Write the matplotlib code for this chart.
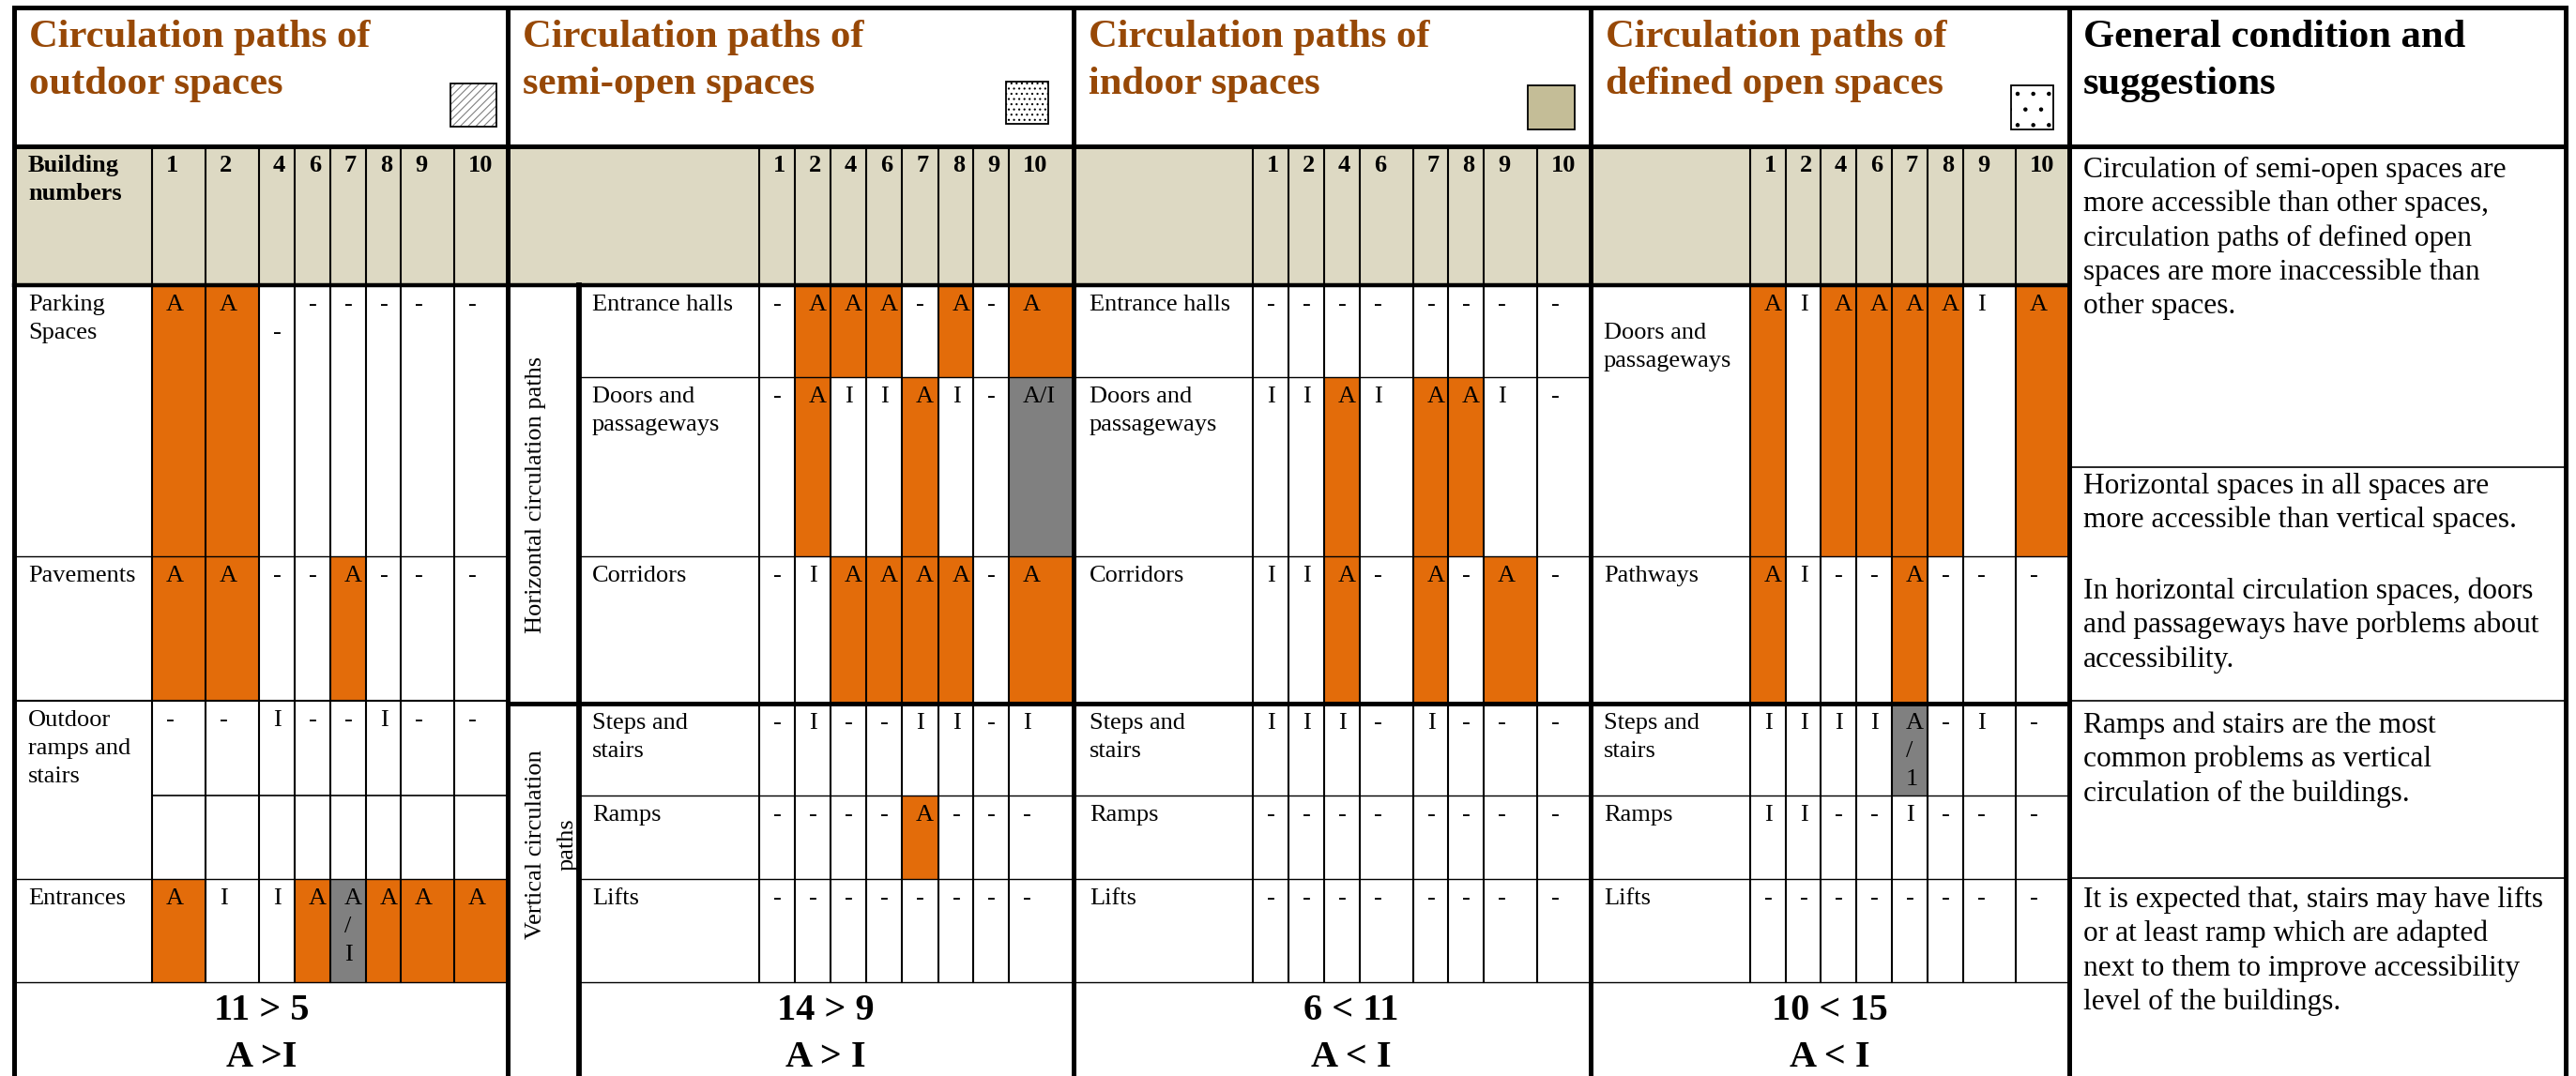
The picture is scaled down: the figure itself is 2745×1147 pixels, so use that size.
import matplotlib
matplotlib.use('Agg')
import matplotlib.pyplot as plt
from matplotlib.patches import Rectangle

plt.rcParams['font.family'] = ['Liberation Serif', 'DejaVu Serif']
plt.rcParams['hatch.linewidth'] = 0.8

# ---------------- data ----------------
buildings = ['1', '2', '4', '6', '7', '8', '9', '10']

section_titles = ['Circulation paths of\noutdoor spaces',
                  'Circulation paths of\nsemi-open spaces',
                  'Circulation paths of\nindoor spaces',
                  'Circulation paths of\ndefined open spaces']
notes_title = 'General condition and\nsuggestions'

outdoor_rows = ['Parking\nSpaces', 'Pavements', 'Outdoor\nramps and\nstairs', 'Entrances']
outdoor_vals = [
    ['A', 'A', '\n-', '-', '-', '-', '-', '-'],
    ['A', 'A', '-', '-', 'A', '-', '-', '-'],
    ['-', '-', 'I', '-', '-', 'I', '-', '-'],
    ['A', 'I', 'I', 'A', 'A\n/\nI', 'A', 'A', 'A'],
]

semi_rows = ['Entrance halls', 'Doors and\npassageways', 'Corridors',
             'Steps and\nstairs', 'Ramps', 'Lifts']
semi_vals = [
    ['-', 'A', 'A', 'A', '-', 'A', '-', 'A'],
    ['-', 'A', 'I', 'I', 'A', 'I', '-', 'A/I'],
    ['-', 'I', 'A', 'A', 'A', 'A', '-', 'A'],
    ['-', 'I', '-', '-', 'I', 'I', '-', 'I'],
    ['-', '-', '-', '-', 'A', '-', '-', '-'],
    ['-', '-', '-', '-', '-', '-', '-', '-'],
]

indoor_rows = ['Entrance halls', 'Doors and\npassageways', 'Corridors',
               'Steps and\nstairs', 'Ramps', 'Lifts']
indoor_vals = [
    ['-', '-', '-', '-', '-', '-', '-', '-'],
    ['I', 'I', 'A', 'I', 'A', 'A', 'I', '-'],
    ['I', 'I', 'A', '-', 'A', '-', 'A', '-'],
    ['I', 'I', 'I', '-', 'I', '-', '-', '-'],
    ['-', '-', '-', '-', '-', '-', '-', '-'],
    ['-', '-', '-', '-', '-', '-', '-', '-'],
]

open_rows = ['\nDoors and\npassageways', 'Pathways', 'Steps and\nstairs', 'Ramps', 'Lifts']
open_vals = [
    ['A', 'I', 'A', 'A', 'A', 'A', 'I', 'A'],
    ['A', 'I', '-', '-', 'A', '-', '-', '-'],
    ['I', 'I', 'I', 'I', 'A\n/\n1', '-', 'I', '-'],
    ['I', 'I', '-', '-', 'I', '-', '-', '-'],
    ['-', '-', '-', '-', '-', '-', '-', '-'],
]

group_labels = ['Horizontal circulation paths', 'Vertical circulation', 'paths']

summary_counts = ['11 > 5', '14 > 9', '6 < 11', '10 < 15']
summary_signs = ['A >I', 'A > I', 'A < I', 'A < I']

notes = [
    'Circulation of semi-open spaces are\nmore accessible than other spaces,\n'
    'circulation paths of defined open\nspaces are more inaccessible than\nother spaces.',
    'Horizontal spaces in all spaces are\nmore accessible than vertical spaces.',
    'In horizontal circulation spaces, doors\nand passageways have porblems about\naccessibility.',
    'Ramps and stairs are the most\ncommon problems as vertical\ncirculation of the buildings.',
    'It is expected that, stairs may have lifts\nor at least ramp which are adapted\n'
    'next to them to improve accessibility\nlevel of the buildings.',
]

row_labels = [outdoor_rows, semi_rows, indoor_rows, open_rows]
values = [outdoor_vals, semi_vals, indoor_vals, open_vals]

# ---------------- layout (pixels) ----------------
W, H = 2745, 1147
TOP, TITLE_BOT, HEAD_BOT, DATA_BOT = 8, 156, 304, 1047
sec_x = [15, 541, 1144, 1695, 2205, 2734]
col_x = [
    [162, 219, 276, 314, 352, 390, 427, 484, 541],
    [809, 847, 885, 923, 961, 1000, 1037, 1075, 1144],
    [1335, 1373, 1411, 1449, 1506, 1543, 1581, 1638, 1695],
    [1865, 1903, 1940, 1978, 2016, 2054, 2092, 2148, 2205],
]
row_y = [
    [304, 593, 747, 937, 1047],
    [304, 402, 593, 750, 848, 937, 1047],
    [304, 402, 593, 750, 848, 937, 1047],
    [304, 593, 750, 848, 937, 1047],
]
label_x = [30, 631, 1161, 1709]
line_left = [15, 617, 1144, 1695]
summary_x = [279, 880, 1440, 1950]
note_base = [189, 526, 638, 781, 967]
note_lines_y = [498, 747, 936]

ORANGE = '#E36C0A'
GRAY = '#808080'
TAN = '#DDD9C3'
BROWN = '#974806'
THICK = 3.6
THIN = 1.0
COL = 1.5
CELL = 19
GAP = 30


def fill_for(v):
    if v == 'A':
        return ORANGE
    if 'A' in v and ('I' in v or '1' in v):
        return GRAY
    return None


fig = plt.figure(figsize=(W / 100, H / 100), dpi=100)
ax = fig.add_axes([0, 0, 1, 1])
ax.set_xlim(0, W)
ax.set_ylim(H, 0)
ax.axis('off')


def put_lines(x, y, text, gap, **kw):
    for i, line in enumerate(text.split('\n')):
        if line:
            ax.text(x, y + i * gap, line, va='baseline', **kw)


def hline(y, x0, x1, lw):
    ax.plot([x0, x1], [y, y], color='black', lw=lw, solid_capstyle='projecting')


def vline(x, y0, y1, lw):
    ax.plot([x, x], [y0, y1], color='black', lw=lw, solid_capstyle='projecting')


# header band
ax.add_patch(Rectangle((sec_x[0], TITLE_BOT), sec_x[4] - sec_x[0], HEAD_BOT - TITLE_BOT,
                       facecolor=TAN, lw=0))

# cell fills
for s in range(4):
    cx, ry = col_x[s], row_y[s]
    for r, vals in enumerate(values[s]):
        for c, v in enumerate(vals):
            col = fill_for(v)
            if col:
                ax.add_patch(Rectangle((cx[c], ry[r]), cx[c + 1] - cx[c], ry[r + 1] - ry[r],
                                       facecolor=col, lw=0))

# thin grid lines
for s in range(4):
    cx, ry = col_x[s], row_y[s]
    for x in cx[:-1]:
        vline(x, TITLE_BOT, DATA_BOT, COL)
    for y in ry[1:]:
        if s > 0 and y == 750:
            hline(y, sec_x[s], sec_x[s + 1], THICK)
        elif s == 0 and y == 747:
            hline(y, sec_x[s], sec_x[s + 1], 1.5)
        else:
            hline(y, line_left[s], sec_x[s + 1], THIN)
hline(848, col_x[0][0], sec_x[1], 1.2)
vline(617, HEAD_BOT, H, 4.2)
for y in note_lines_y:
    hline(y, sec_x[4], sec_x[5], 1.2)

# thick frame
hline(TOP, sec_x[0], sec_x[5], THICK)
hline(TITLE_BOT, sec_x[0], sec_x[5], THICK)
hline(HEAD_BOT, sec_x[0], sec_x[4], 3.2)
for x in sec_x:
    vline(x, TOP, H + 5, THICK)

# legend swatches in the title cells
sw = [(480, 89, 49, 46), (1072, 87, 45, 45), (1628, 91, 50, 47), (2143, 91, 45, 47)]
ax.add_patch(Rectangle(sw[0][:2], sw[0][2], sw[0][3], facecolor='white', edgecolor=GRAY,
                       hatch='////', lw=0))
ax.add_patch(Rectangle(sw[1][:2], sw[1][2], sw[1][3], facecolor='white', edgecolor='black',
                       hatch='...', lw=0))
ax.add_patch(Rectangle(sw[2][:2], sw[2][2], sw[2][3], facecolor='#C4BD97', lw=0))
ax.add_patch(Rectangle(sw[3][:2], sw[3][2], sw[3][3], facecolor='white', edgecolor='black',
                       hatch='.', lw=0))
for (x, y, w, h) in sw:
    ax.add_patch(Rectangle((x, y), w, h, facecolor='none', edgecolor='black', lw=1.3))

# titles
for s in range(4):
    put_lines(sec_x[s] + 16, 50, section_titles[s], 50, fontsize=30.7,
              fontweight='bold', color=BROWN)
put_lines(sec_x[4] + 15, 50, notes_title, 50, fontsize=30.7, fontweight='bold', color='black')

# header numbers
put_lines(label_x[0], 183, 'Building\nnumbers', GAP, fontsize=CELL, fontweight='bold')
for s in range(4):
    for c, b in enumerate(buildings):
        ax.text(col_x[s][c] + 15, 183, b, va='baseline', fontsize=CELL, fontweight='bold')

# row labels and values
for s in range(4):
    cx, ry = col_x[s], row_y[s]
    for r, lab in enumerate(row_labels[s]):
        put_lines(label_x[s], ry[r] + 27, lab, GAP, fontsize=CELL)
        for c, v in enumerate(values[s][r]):
            put_lines(cx[c] + 15, ry[r] + 27, v, GAP, fontsize=CELL)

# rotated group labels
ax.text(571, 527, group_labels[0], rotation=90, ha='center', va='center', fontsize=CELL)
ax.text(571, 900, group_labels[1], rotation=90, ha='center', va='center', fontsize=CELL)
ax.text(605, 900, group_labels[2], rotation=90, ha='center', va='center', fontsize=CELL)

# summary row
for s in range(4):
    ax.text(summary_x[s], 1087, summary_counts[s], ha='center', va='baseline',
            fontsize=29, fontweight='bold')
    ax.text(summary_x[s], 1137, summary_signs[s], ha='center', va='baseline',
            fontsize=29, fontweight='bold')

# notes column
for base, txt in zip(note_base, notes):
    put_lines(sec_x[4] + 15, base, txt, 36.3, fontsize=22.6)

fig.savefig('out.png', dpi=100, facecolor='white')
